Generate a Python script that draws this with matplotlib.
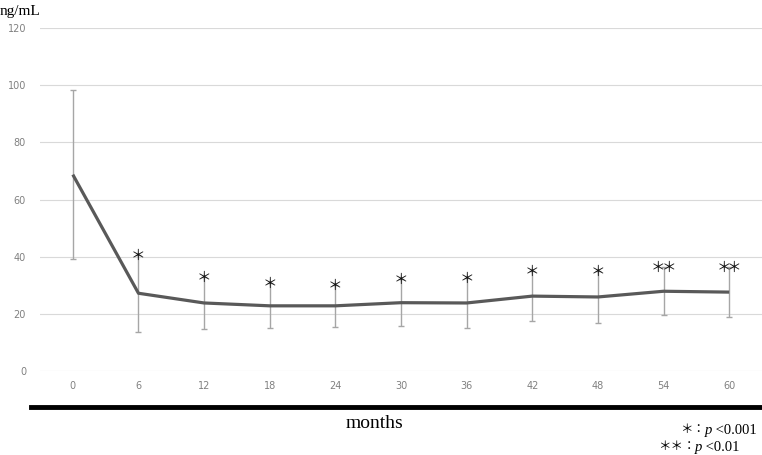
import matplotlib
matplotlib.use("Agg")
import matplotlib.pyplot as plt

# values
months = ["0", "6", "12", "18", "24", "30", "36", "42", "48", "54", "60"]
mean_vals = [68.7, 27.2, 23.8, 22.8, 22.8, 23.9, 23.8, 26.2, 25.9, 27.9, 27.6]
sd_vals = [29.6, 13.5, 9.1, 7.9, 7.4, 8.2, 8.8, 8.7, 9.1, 8.4, 8.7]
n_stars = [0, 1, 1, 1, 1, 1, 1, 1, 1, 2, 2]
y_ticks = [0, 20, 40, 60, 80, 100, 120]

CJK = ["Noto Sans CJK JP", "DejaVu Sans"]

fig = plt.figure(figsize=(7.62, 4.55), dpi=100)
ax = fig.add_axes([40 / 762, 1 - 371 / 455, 722 / 762, 343 / 455])

x = list(range(len(months)))
ax.errorbar(x, mean_vals, yerr=sd_vals, fmt="none", ecolor="#a6a6a6",
            elinewidth=1.0, capsize=2.5, capthick=1.0, zorder=2)
ax.plot(x, mean_vals, color="#595959", lw=2.3, zorder=3, solid_capstyle="butt")

for i, n in enumerate(n_stars):
    if n == 0:
        continue
    offsets = [0.0] if n == 1 else [-0.08, 0.08]
    for dx in offsets:
        ax.text(i + dx, mean_vals[i] + sd_vals[i] - 0.3, "＊", ha="center",
                va="center", fontsize=10.5, family=CJK, color="#111111", zorder=4)

ax.set_xlim(-0.5, len(months) - 0.5)
ax.set_ylim(0, 120)
ax.set_yticks(y_ticks)
ax.set_xticks(x)
ax.set_xticklabels(months)
ax.yaxis.grid(True, color="#d9d9d9", lw=0.8)
ax.set_axisbelow(True)
for s in ax.spines.values():
    s.set_visible(False)
ax.tick_params(length=0, labelsize=7, colors="#808080")
ax.tick_params(axis="x", pad=7)
ax.tick_params(axis="y", pad=10)

fig.text(0, 1 - 12 / 455, "ng/mL", family="Liberation Serif", fontsize=11,
         ha="left", va="center")

# thick rule under the axis
fig.add_artist(plt.Line2D([31 / 762, 1.0], [1 - 407 / 455] * 2, color="black",
                          lw=3.5, transform=fig.transFigure))
fig.text(375 / 762, 1 - 424 / 455, "months", family="Liberation Serif",
         fontsize=14, ha="center", va="center")


def legend_line(x_right, y0, stars, value):
    # right-aligned: " <value" then italic p then stars + colon
    fig.canvas.draw()
    r = fig.canvas.get_renderer()
    inv = fig.transFigure.inverted()
    t3 = fig.text(x_right, y0, " <" + value, fontsize=10.5,
                  family="Liberation Serif", va="baseline", ha="right")
    x2 = inv.transform((t3.get_window_extent(r).x0, 0))[0]
    t2 = fig.text(x2, y0, "p", fontsize=10.5, family="Liberation Serif",
                  style="italic", va="baseline", ha="right")
    x1 = inv.transform((t2.get_window_extent(r).x0, 0))[0]
    fig.text(x1, y0 + 0.002, stars + "：", ha="right", va="baseline",
             fontsize=9, family=CJK)


legend_line(757 / 762, 1 - 434 / 455, "＊", "0.001")
legend_line(740 / 762, 1 - 451 / 455, "＊＊", "0.01")

fig.savefig("out.png", dpi=100)
